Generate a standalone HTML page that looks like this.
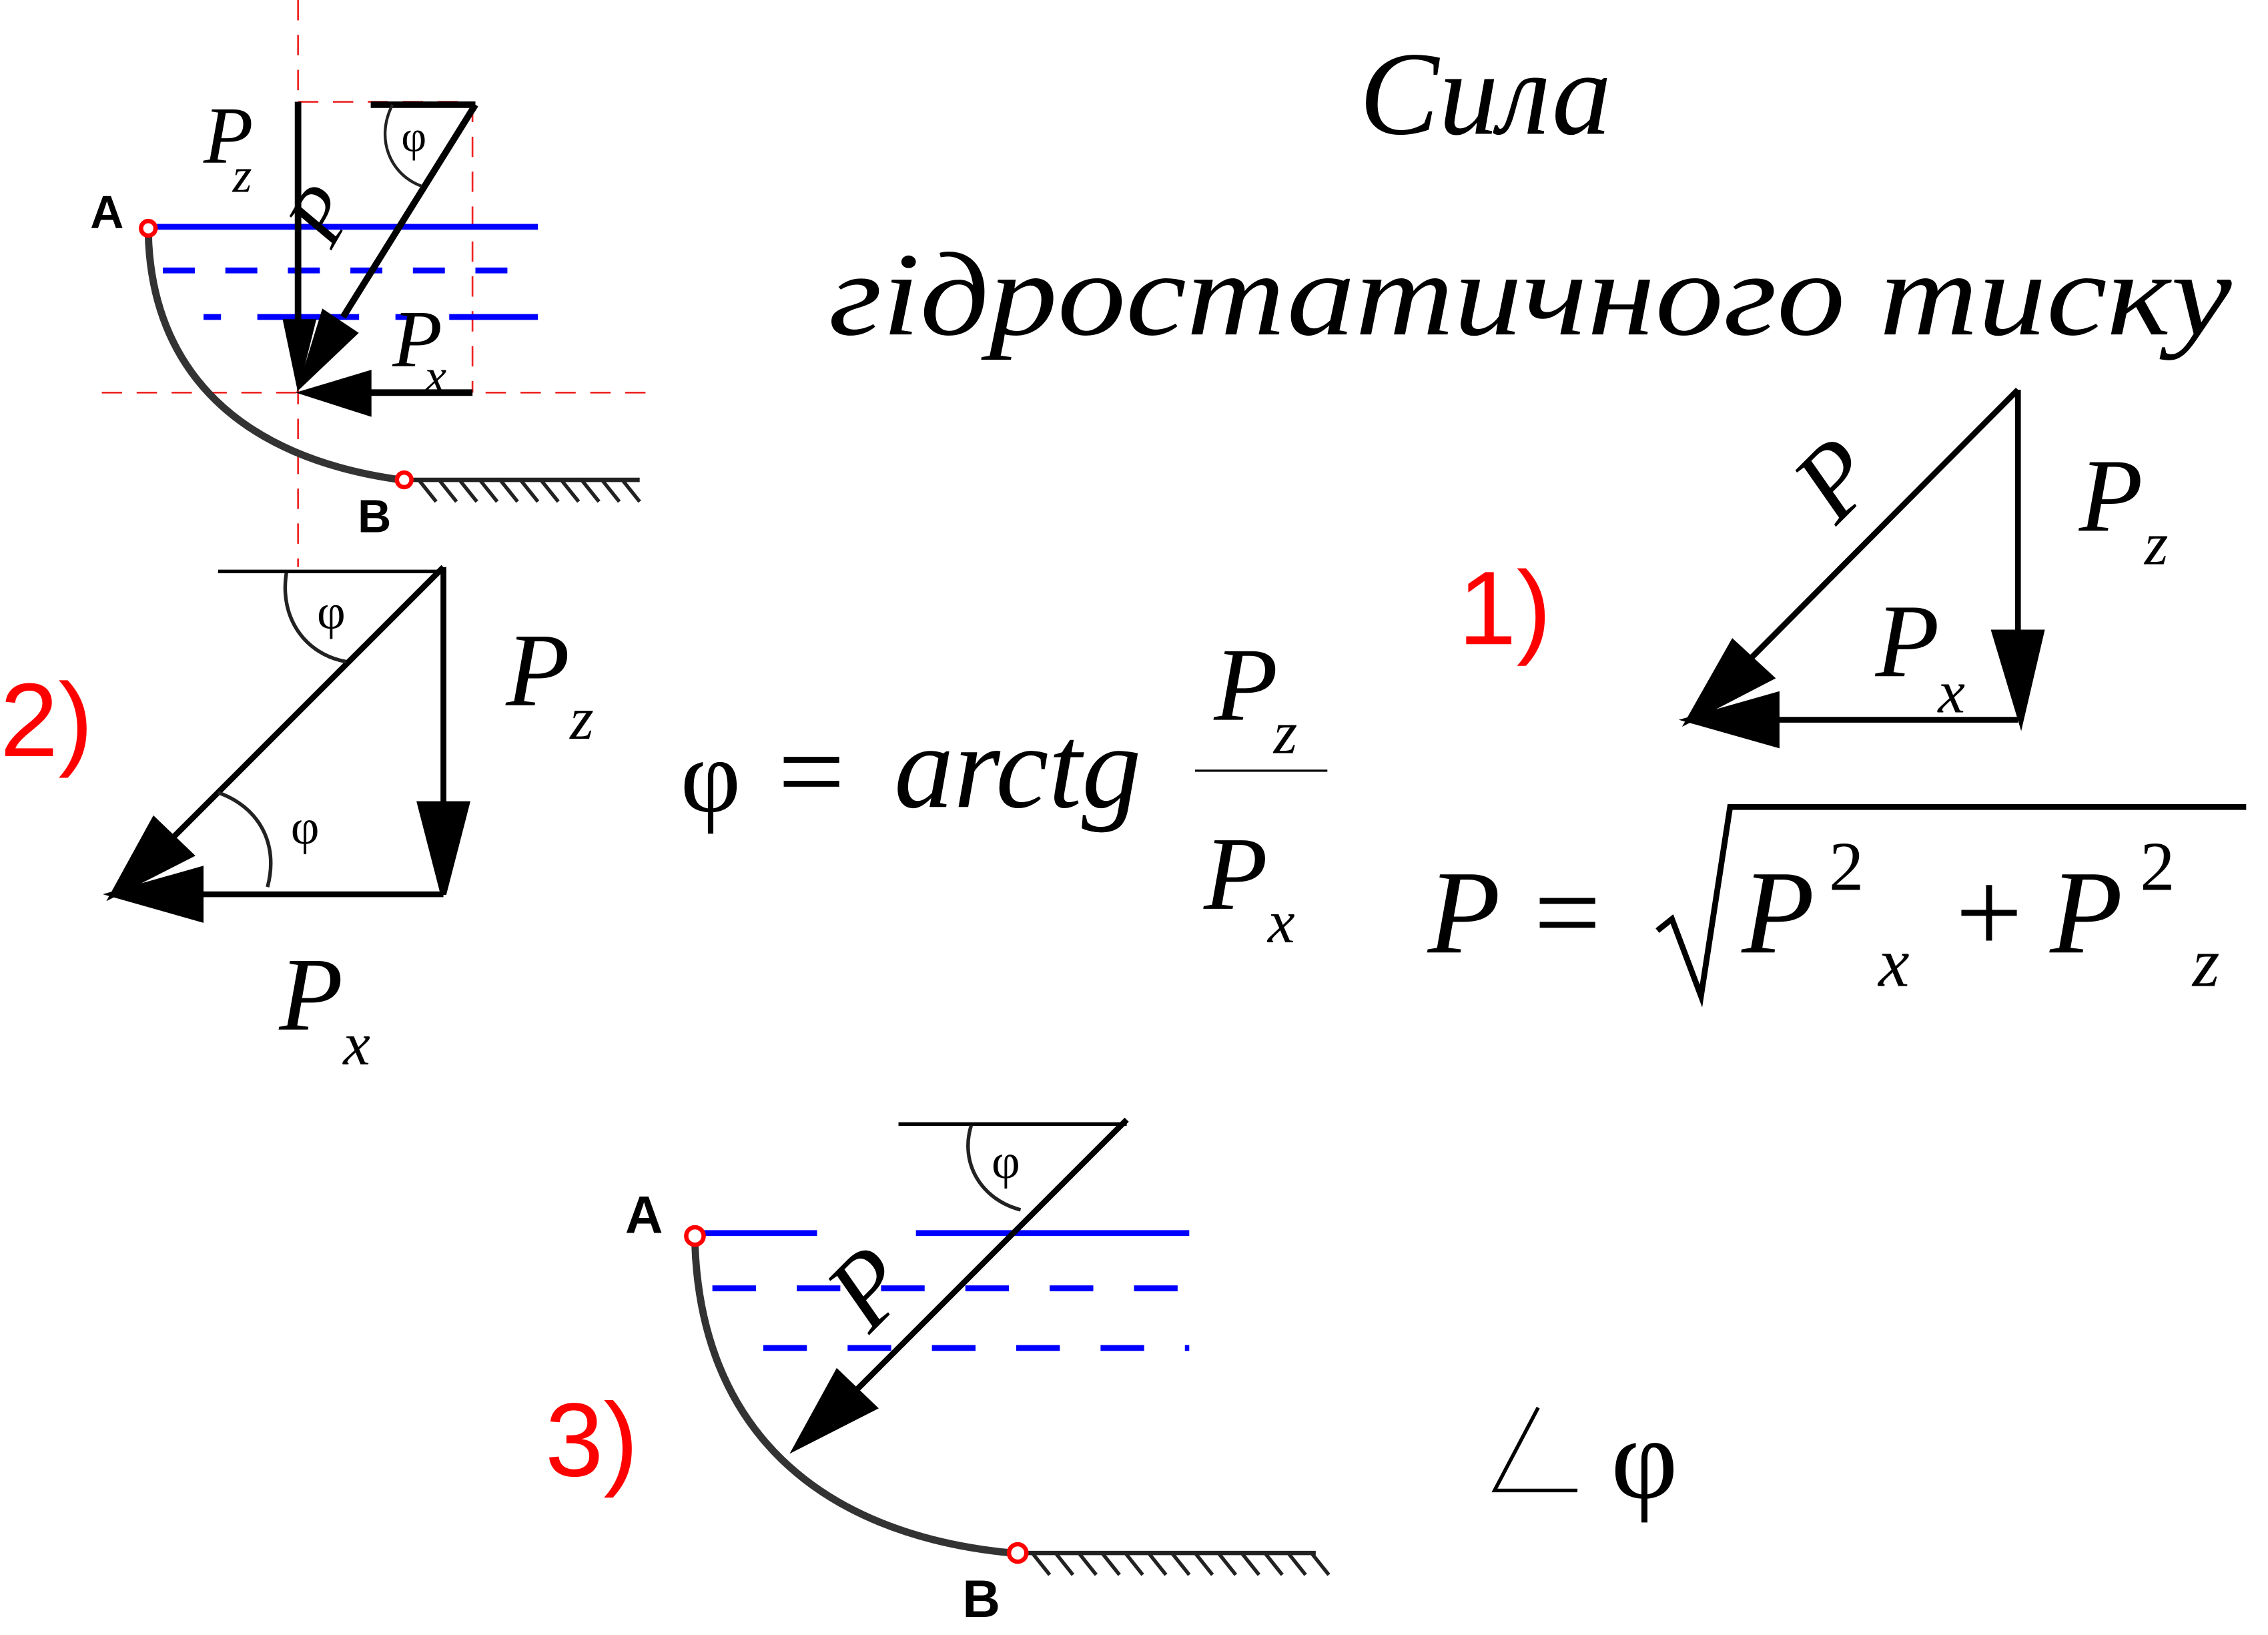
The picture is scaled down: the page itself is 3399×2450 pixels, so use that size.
<!DOCTYPE html>
<html><head><meta charset="utf-8"><style>
html,body{margin:0;padding:0;background:#fff;}
svg{display:block;}
.it{font-family:"Liberation Serif",serif;font-style:italic;}
.sv{font-family:"Liberation Serif",serif;}
.sb{font-family:"Liberation Sans",sans-serif;font-weight:bold;}
.red{font-family:"Liberation Sans",sans-serif;fill:#f00;}
</style></head><body>
<svg width="3399" height="2450" viewBox="0 0 1560 1124.4" preserveAspectRatio="none" xmlns="http://www.w3.org/2000/svg">
<g fill="none" stroke="#e22" stroke-width="1.2" stroke-dasharray="14,10">
<line x1="205" y1="0" x2="205" y2="390"/>
<line x1="325" y1="70" x2="325" y2="270"/>
<line x1="205" y1="70" x2="325" y2="70"/>
<line x1="70" y1="270" x2="450" y2="270"/>
</g>
<line x1="108" y1="156" x2="370" y2="156" stroke="#00f" stroke-width="4"/>
<line x1="112" y1="186" x2="370" y2="186" stroke="#00f" stroke-width="4" stroke-dasharray="22,21"/>
<line x1="140" y1="218" x2="370" y2="218" stroke="#00f" stroke-width="4" stroke-dasharray="12,25,70,25"/>
<path d="M102,160 C104,255 165,315 276,330" fill="none" stroke="#333" stroke-width="5"/>
<line x1="282" y1="330" x2="440" y2="330" stroke="#222" stroke-width="3"/>
<g stroke="#222" stroke-width="2.5">
<line x1="288" y1="330" x2="300" y2="345"/><line x1="302" y1="330" x2="314" y2="345"/><line x1="316" y1="330" x2="328" y2="345"/><line x1="330" y1="330" x2="342" y2="345"/><line x1="344" y1="330" x2="356" y2="345"/><line x1="358" y1="330" x2="370" y2="345"/><line x1="372" y1="330" x2="384" y2="345"/><line x1="386" y1="330" x2="398" y2="345"/><line x1="400" y1="330" x2="412" y2="345"/><line x1="414" y1="330" x2="426" y2="345"/><line x1="428" y1="330" x2="440" y2="345"/>
</g>
<circle cx="102" cy="157" r="5" fill="#fff" stroke="#f00" stroke-width="3"/>
<circle cx="278" cy="330" r="5" fill="#fff" stroke="#f00" stroke-width="3"/>
<text x="62" y="157" class="sb" font-size="32">A</text>
<text x="246" y="366" class="sb" font-size="32">B</text>
<g stroke="#000" stroke-width="4.5" fill="#000">
<line x1="205" y1="70" x2="205" y2="225"/>
<path d="M195,220 L217,220 L205,268 z" stroke-width="1"/>
<line x1="255" y1="72" x2="327" y2="72"/>
<line x1="327" y1="72" x2="236" y2="218"/>
<path d="M246,229 L222,213 L205,268 z" stroke-width="1"/>
<line x1="325" y1="270" x2="250" y2="270"/>
<path d="M255,255 L255,286 L205,270 z" stroke-width="1"/>
</g>
<path d="M270,72 C258,95 268,120 290,128" fill="none" stroke="#222" stroke-width="2"/>
<text x="276" y="104" class="sv" font-size="30">φ</text>
<text x="140" y="112" class="it" font-size="56">P</text><text x="160" y="132" class="it" font-size="34">z</text>
<text x="0" y="0" class="it" font-size="56" transform="translate(228,172) rotate(-60)">P</text>
<text x="270" y="252" class="it" font-size="56">P</text><text x="292" y="270" class="it" font-size="34">x</text>

<text x="935" y="92" class="it" font-size="82">Сила</text>
<text x="570" y="230" class="it" font-size="82" textLength="965" lengthAdjust="spacingAndGlyphs">гідростатичного  тиску</text>

<text x="1003" y="443" class="red" font-size="72">1)</text>
<g stroke="#000" stroke-width="4" fill="#000">
<line x1="1388" y1="268" x2="1388" y2="440"/><path d="M1372,435 L1404,435 L1390,495 z"/>
<line x1="1388" y1="495" x2="1215" y2="495"/><path d="M1222,478 L1222,512 L1162,495 z"/>
<line x1="1388" y1="268" x2="1205" y2="452"/><path d="M1192,442 L1218,466 L1162,495 z"/>
</g>
<text x="0" y="0" class="it" font-size="72" transform="translate(1263,362) rotate(-45)">P</text>
<text x="1430" y="365" class="it" font-size="72">P</text><text x="1475" y="388" class="it" font-size="42">z</text>
<text x="1290" y="465" class="it" font-size="72">P</text><text x="1333" y="490" class="it" font-size="42">x</text>

<text x="982" y="655" class="it" font-size="82">P</text>
<text x="1055" y="655" class="sv" font-size="82">=</text>
<path d="M1140,640 L1150,632 L1170,685 L1190,555 L1545,555" fill="none" stroke="#000" stroke-width="4"/>
<text x="1198" y="655" class="it" font-size="82">P</text><text x="1258" y="612" class="sv" font-size="48">2</text><text x="1292" y="678" class="it" font-size="48">x</text>
<text x="1345" y="655" class="sv" font-size="82">+</text>
<text x="1410" y="655" class="it" font-size="82">P</text><text x="1472" y="612" class="sv" font-size="48">2</text><text x="1508" y="678" class="it" font-size="48">z</text>

<text x="0" y="520" class="red" font-size="72">2)</text>
<g stroke="#000" stroke-width="4" fill="#000">
<line x1="150" y1="393" x2="305" y2="393" stroke-width="2.5"/>
<line x1="305" y1="390" x2="305" y2="560"/><path d="M289,553 L321,553 L305,615 z"/>
<line x1="305" y1="615" x2="135" y2="615"/><path d="M138,598 L138,632 L78,615 z"/>
<line x1="305" y1="390" x2="120" y2="575"/><path d="M106,564 L131,588 L78,615 z"/>
</g>
<path d="M197,394 C192,425 210,450 238,455" fill="none" stroke="#222" stroke-width="2.5"/>
<path d="M150,545 C178,555 192,580 184,610" fill="none" stroke="#222" stroke-width="2.5"/>
<text x="218" y="432" class="sv" font-size="34">φ</text>
<text x="200" y="580" class="sv" font-size="34">φ</text>
<text x="348" y="485" class="it" font-size="72">P</text><text x="392" y="508" class="it" font-size="42">z</text>
<text x="192" y="708" class="it" font-size="72">P</text><text x="236" y="732" class="it" font-size="42">x</text>

<text x="468" y="558" class="sv" font-size="72">φ</text>
<text x="535" y="558" class="sv" font-size="82">=</text>
<text x="615" y="555" class="it" font-size="82">arctg</text>
<line x1="822" y1="530" x2="913" y2="530" stroke="#000" stroke-width="1.5"/>
<text x="835" y="495" class="it" font-size="72">P</text><text x="876" y="518" class="it" font-size="42">z</text>
<text x="828" y="625" class="it" font-size="72">P</text><text x="872" y="648" class="it" font-size="42">x</text>

<text x="375" y="1015" class="red" font-size="72">3)</text>
<line x1="483" y1="848" x2="562" y2="848" stroke="#00f" stroke-width="4"/>
<line x1="630" y1="848" x2="818" y2="848" stroke="#00f" stroke-width="4"/>
<line x1="490" y1="886" x2="818" y2="886" stroke="#00f" stroke-width="4" stroke-dasharray="30,28"/>
<line x1="525" y1="927" x2="818" y2="927" stroke="#00f" stroke-width="4" stroke-dasharray="30,28"/>
<path d="M478,855 C482,980 560,1055 696,1068" fill="none" stroke="#333" stroke-width="5"/>
<line x1="704" y1="1068" x2="905" y2="1068" stroke="#222" stroke-width="3"/>
<g stroke="#222" stroke-width="2.5">
<line x1="710" y1="1068" x2="722" y2="1083"/><line x1="726" y1="1068" x2="738" y2="1083"/><line x1="742" y1="1068" x2="754" y2="1083"/><line x1="758" y1="1068" x2="770" y2="1083"/><line x1="774" y1="1068" x2="786" y2="1083"/><line x1="790" y1="1068" x2="802" y2="1083"/><line x1="806" y1="1068" x2="818" y2="1083"/><line x1="822" y1="1068" x2="834" y2="1083"/><line x1="838" y1="1068" x2="850" y2="1083"/><line x1="854" y1="1068" x2="866" y2="1083"/><line x1="870" y1="1068" x2="882" y2="1083"/><line x1="886" y1="1068" x2="898" y2="1083"/><line x1="902" y1="1068" x2="914" y2="1083"/>
</g>
<circle cx="478" cy="850" r="6" fill="#fff" stroke="#f00" stroke-width="3"/>
<circle cx="700" cy="1068" r="6" fill="#fff" stroke="#f00" stroke-width="3"/>
<text x="430" y="848" class="sb" font-size="36">A</text>
<text x="662" y="1112" class="sb" font-size="36">B</text>
<g stroke="#000" stroke-width="4" fill="#000">
<line x1="618" y1="773" x2="775" y2="773" stroke-width="2.5"/>
<line x1="775" y1="770" x2="590" y2="955"/><path d="M576,944 L601,968 L548,995 z"/>
</g>
<path d="M668,774 C660,800 675,825 702,832" fill="none" stroke="#222" stroke-width="2.5"/>
<text x="682" y="810" class="sv" font-size="34">φ</text>
<text x="0" y="0" class="it" font-size="72" transform="translate(598,918) rotate(-45)">P</text>

<path d="M1058,968 L1028,1025 L1085,1025" fill="none" stroke="#000" stroke-width="2.5"/>
<text x="1108" y="1030" class="sv" font-size="80">φ</text>
</svg>
</body></html>
